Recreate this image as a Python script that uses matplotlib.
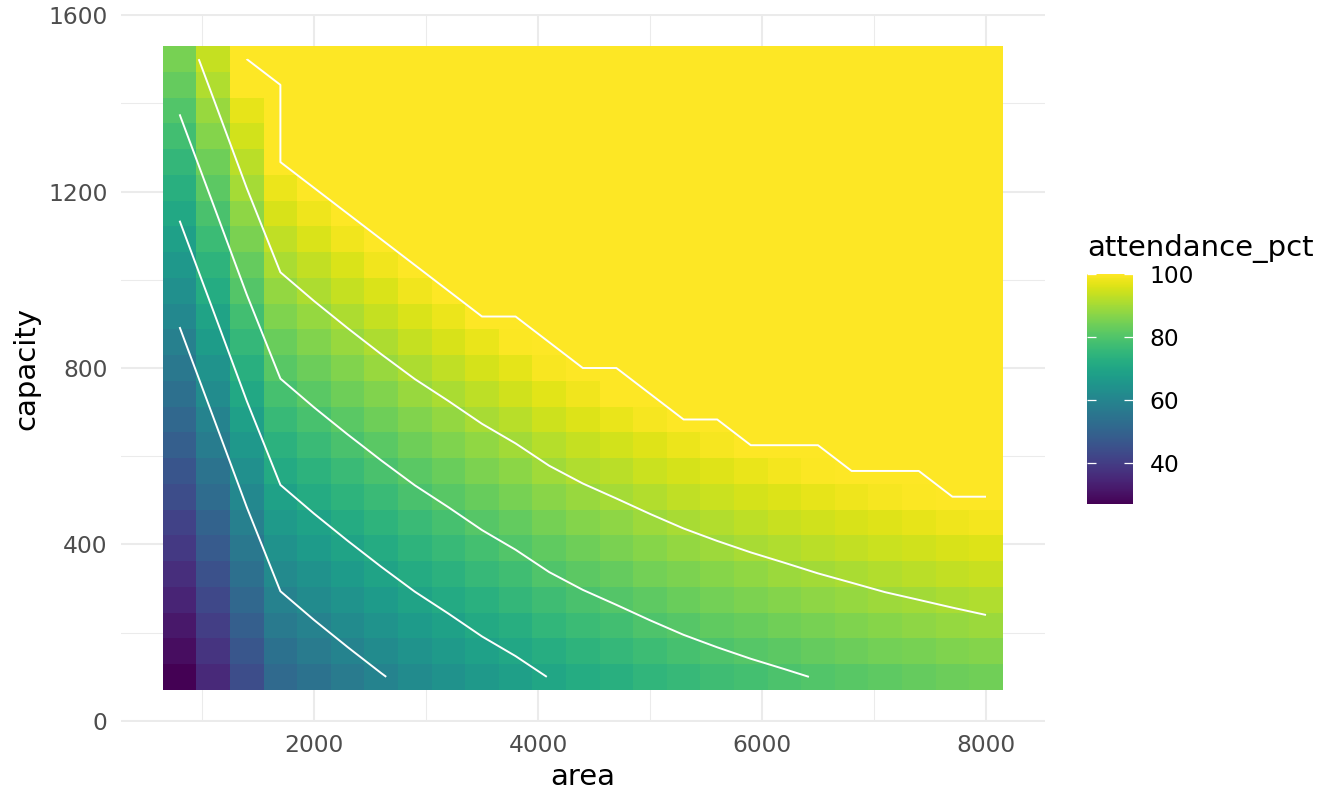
import numpy as np
import matplotlib
matplotlib.use("Agg")
import matplotlib.pyplot as plt

# ---- data ----
area = [800, 1100, 1400, 1700, 2000, 2300, 2600, 2900, 3200, 3500, 3800, 4100, 4400,
        4700, 5000, 5300, 5600, 5900, 6200, 6500, 6800, 7100, 7400, 7700, 8000]
capacity = [100, 158.33, 216.67, 275, 333.33, 391.67, 450, 508.33, 566.67, 625, 683.33,
            741.67, 800, 858.33, 916.67, 975, 1033.33, 1091.67, 1150, 1208.33, 1266.67,
            1325, 1383.33, 1441.67, 1500]
area_effect = [22.95, 31.4, 39.9, 47.8, 50.5, 53.05, 55.5, 57.84, 59.9, 62.05, 63.9, 66.0,
               67.67, 69.08, 70.53, 71.9, 73.07, 74.15, 75.12, 76.12, 77.0, 77.89, 78.61,
               79.34, 80.03]
# attendance contribution of each capacity row
capacity_effect = [4.15, 6.57, 8.99, 11.41, 13.83, 16.25, 18.67, 21.09, 23.51, 25.93, 28.36,
                   30.78, 33.20, 35.62, 38.04, 40.46, 42.88, 45.30, 47.72, 50.14, 52.56,
                   54.98, 57.40, 59.82, 62.24]
attendance_cap = 100
contour_levels = [60, 70, 80, 90, 100]
cbar_ticks = [40, 60, 80, 100]

# table of attendance_pct (rows = capacity, cols = area), capped at 100
attendance_pct = np.minimum(attendance_cap,
                            np.add.outer(np.array(capacity_effect), np.array(area_effect)))

plt.rcParams['font.family'] = ['DejaVu Sans']

W, H = 1344, 806
fig = plt.figure(figsize=(W / 100, H / 100), dpi=100)
fig.patch.set_facecolor('white')

pl, pr, pt, pb = 120.8, 1044.8, 14.1, 721.9
ax = fig.add_axes([pl / W, 1 - pb / H, (pr - pl) / W, (pb - pt) / H])

mesh = ax.pcolormesh(area, capacity, attendance_pct, shading='nearest', cmap='viridis',
                     antialiased=False, linewidth=0, zorder=1)

lv = [l if l < attendance_cap else attendance_cap - 1e-4 for l in contour_levels]
ax.contour(area, capacity, attendance_pct, levels=lv, colors='white', linewidths=1.4,
           zorder=2)

ax.set_xlim(275, 8525)
ax.set_ylim(-2.08, 1602.08)
ax.set_xticks([2000, 4000, 6000, 8000])
ax.set_xticks([1000, 3000, 5000, 7000], minor=True)
ax.set_yticks([0, 400, 800, 1200, 1600])
ax.set_yticks([200, 600, 1000, 1400], minor=True)
ax.set_axisbelow(True)
ax.grid(which='major', color='#EBEBEB', linewidth=1.45)
ax.grid(which='minor', color='#EBEBEB', linewidth=0.75)
for s in ax.spines.values():
    s.set_visible(False)
ax.tick_params(axis='both', which='both', length=0, labelsize=16.8, labelcolor='#4D4D4D')
ax.tick_params(axis='y', pad=9.6)
ax.tick_params(axis='x', pad=8.7)
ax.set_facecolor('white')

fig.text(582.5 / W, 1 - 785 / H, 'area', fontsize=21, ha='center', va='baseline',
         color='black')
fig.text(34.3 / W, 1 - 368.5 / H, 'capacity', fontsize=21, ha='center', va='baseline',
         rotation=90, rotation_mode='anchor', color='black')

# colour bar
cax = fig.add_axes([1086.7 / W, 1 - 504 / H, 46 / W, 230 / H])
cb = fig.colorbar(mesh, cax=cax)
cb.outline.set_visible(False)
cb.set_ticks(cbar_ticks)
cax.tick_params(axis='y', direction='in', left=True, right=True, labelleft=False,
                labelright=True, color='white', length=6.7, width=0.9,
                labelsize=16.8, labelcolor='black', pad=12)
cax.minorticks_off()
fig.text(1087 / W, 1 - 256 / H, 'attendance_pct', fontsize=21, ha='left',
         va='baseline', color='black')

fig.savefig('out.png', dpi=100, facecolor='white')
